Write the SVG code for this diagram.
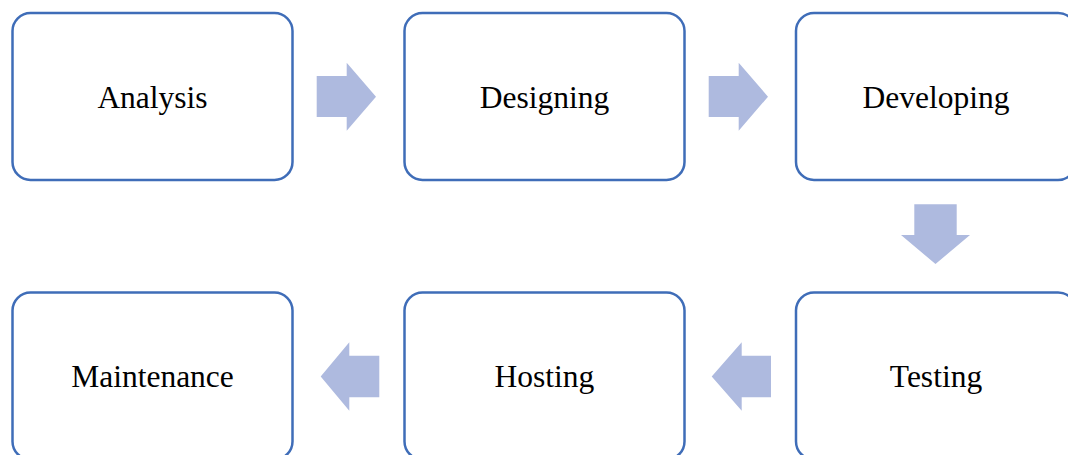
<svg xmlns="http://www.w3.org/2000/svg" width="1068" height="455" viewBox="0 0 1068 455">
<style>
.box{fill:#fff;stroke:#3F6DB8;stroke-width:2.5}
.lbl{font-family:"Liberation Serif","Times New Roman",serif;font-size:31.5px;fill:#000;text-anchor:middle}
.arr{fill:#AEBADF}
</style>
<rect width="1068" height="455" fill="#fff"/>
<g id="analysis"><rect class="box" x="12.5" y="13" width="280" height="167" rx="18"/><text class="lbl" x="152.5" y="107.5">Analysis</text></g>
<g id="designing"><rect class="box" x="404.5" y="13" width="280" height="167" rx="18"/><text class="lbl" x="544.5" y="107.5">Designing</text></g>
<g id="developing"><rect class="box" x="796" y="13" width="280" height="167" rx="18"/><text class="lbl" x="936" y="107.5">Developing</text></g>
<g id="testing"><rect class="box" x="796" y="292.5" width="280" height="167" rx="18"/><text class="lbl" x="936" y="387">Testing</text></g>
<g id="hosting"><rect class="box" x="404.5" y="292.5" width="280" height="167" rx="18"/><text class="lbl" x="544.5" y="387">Hosting</text></g>
<g id="maintenance"><rect class="box" x="12.5" y="292.5" width="280" height="167" rx="18"/><text class="lbl" x="152.5" y="387">Maintenance</text></g>
<g id="connectors">
<polygon class="arr" points="316.7,76 346.7,76 346.7,62.7 376,96.7 346.7,130.7 346.7,117 316.7,117"/>
<polygon class="arr" points="708.7,76 738.7,76 738.7,62.7 768,96.7 738.7,130.7 738.7,117 708.7,117"/>
<polygon class="arr" points="914.3,204.3 956.7,204.3 956.7,235 970,235 935.5,264 901,235 914.3,235"/>
<polygon class="arr" points="771,355.7 741.7,355.7 741.7,342.3 711.7,376.5 741.7,410.7 741.7,397.3 771,397.3"/>
<polygon class="arr" points="379.3,355.7 349.3,355.7 349.3,342.3 320.7,376.5 349.3,410.7 349.3,397.3 379.3,397.3"/>
</g>
</svg>
